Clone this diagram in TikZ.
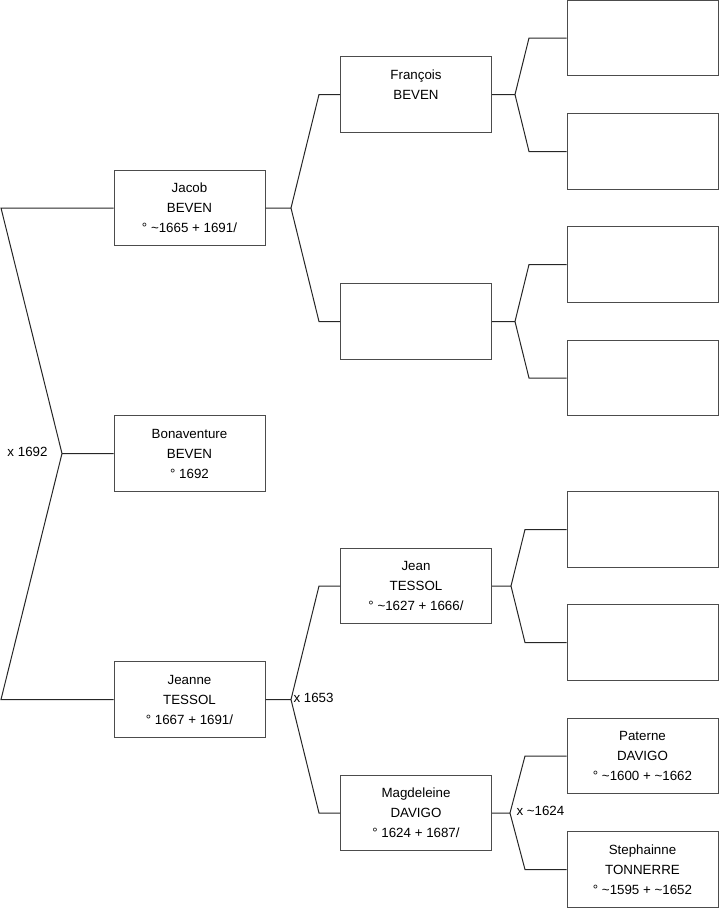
\documentclass[tikz,border=0pt]{standalone}
\usepackage{fontspec}
\setmainfont{Liberation Sans}
\begin{document}
\begin{tikzpicture}[x=.75pt,y=-.75pt,line width=.75pt,font=\fontsize{10}{15}\selectfont,
  person/.style={draw=black!70,fill=white,minimum width=113.25pt,minimum height=56.5pt,align=center,inner sep=0pt},
  union/.style={anchor=west,inner sep=0pt}]
\useasboundingbox (0,0) rectangle (719,908);
% generation 1
\node[person] (jacob) at (189.5,208) {Jacob\\BEVEN\\° \textasciitilde1665 + 1691/};
\node[person] (bonav) at (189.5,453.5) {Bonaventure\\BEVEN\\° 1692};
\node[person] (jeanne) at (189.5,699.5) {Jeanne\\TESSOL\\° 1667 + 1691/};
% generation 2
\node[person] (francois) at (416,94.5) {François\\BEVEN\\\phantom{° 1}};
\node[person] (nn1) at (416,321.5) {};
\node[person] (jean) at (416,586) {Jean\\TESSOL\\° \textasciitilde1627 + 1666/};
\node[person] (magd) at (416,813) {Magdeleine\\DAVIGO\\° 1624 + 1687/};
% generation 3
\node[person] (nn2) at (642.5,38) {};
\node[person] (nn3) at (642.5,151.5) {};
\node[person] (nn4) at (642.5,264.5) {};
\node[person] (nn5) at (642.5,378) {};
\node[person] (nn6) at (642.5,529.5) {};
\node[person] (nn7) at (642.5,642.5) {};
\node[person] (paterne) at (642.5,756) {Paterne\\DAVIGO\\° \textasciitilde1600 + \textasciitilde1662};
\node[person] (steph) at (642.5,869.5) {Stephainne\\TONNERRE\\° \textasciitilde1595 + \textasciitilde1652};
% forks
\coordinate (k1) at (62,453.5); \coordinate (k1a) at (1,208); \coordinate (k1b) at (1,699.5);
\coordinate (k2) at (291,208); \coordinate (k2a) at (319,94.5); \coordinate (k2b) at (319,321.5);
\coordinate (k3) at (291,699.5); \coordinate (k3a) at (319,586); \coordinate (k3b) at (319,813);
\coordinate (k4) at (515,94.5); \coordinate (k4a) at (529,38); \coordinate (k4b) at (529,151.5);
\coordinate (k5) at (515,321.5); \coordinate (k5a) at (529,264.5); \coordinate (k5b) at (529,378);
\coordinate (k6) at (511,586); \coordinate (k6a) at (525,529.5); \coordinate (k6b) at (525,642.5);
\coordinate (k7) at (510,813); \coordinate (k7a) at (525,756); \coordinate (k7b) at (525,869.5);
\draw[black!85] (bonav.west)--(k1) (jacob.west)--(k1a)--(k1)--(k1b)--(jeanne.west);
\draw[black!85] (jacob.east)--(k2) (francois.west)--(k2a)--(k2)--(k2b)--(nn1.west);
\draw[black!85] (jeanne.east)--(k3) (jean.west)--(k3a)--(k3)--(k3b)--(magd.west);
\draw[black!85] (francois.east)--(k4) (nn2.west)--(k4a)--(k4)--(k4b)--(nn3.west);
\draw[black!85] (nn1.east)--(k5) (nn4.west)--(k5a)--(k5)--(k5b)--(nn5.west);
\draw[black!85] (jean.east)--(k6) (nn6.west)--(k6a)--(k6)--(k6b)--(nn7.west);
\draw[black!85] (magd.east)--(k7) (paterne.west)--(k7a)--(k7)--(k7b)--(steph.west);
% unions
\node[union] (u1) at (7,452) {x 1692};
\node[union] (u2) at (293,698) {x 1653};
\node[union] (u3) at (516,811) {x \textasciitilde1624};
\end{tikzpicture}
\end{document}
